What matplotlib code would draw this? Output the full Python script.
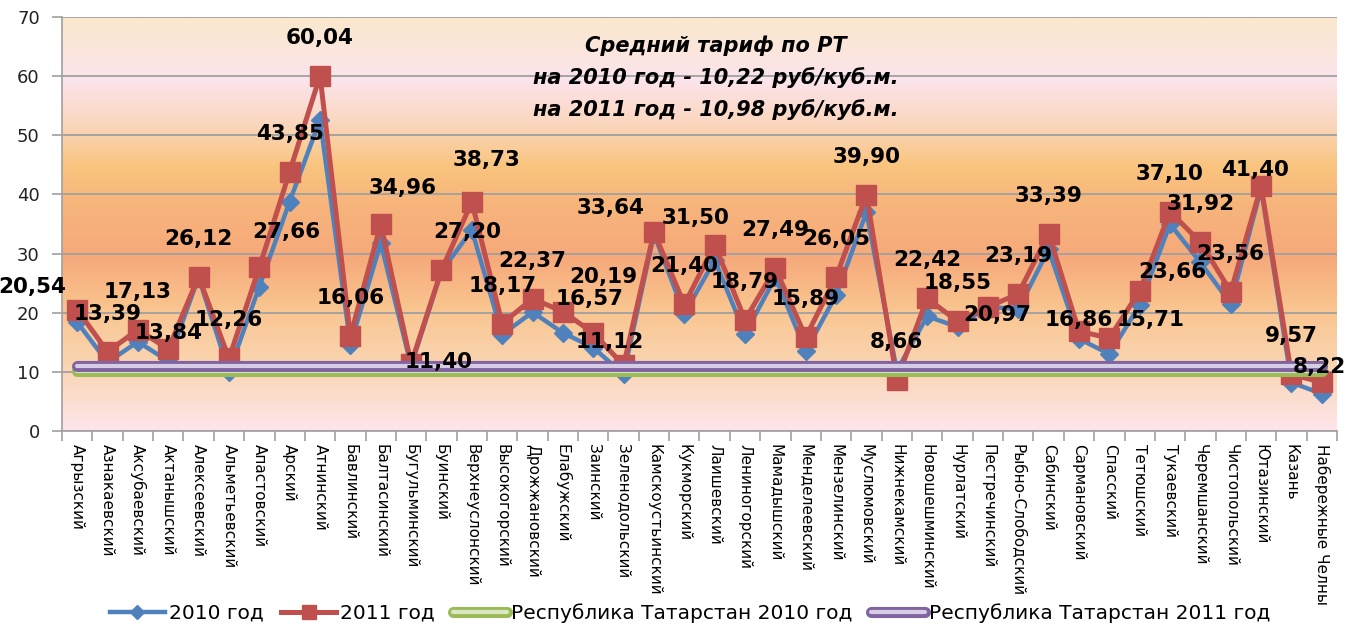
import matplotlib
matplotlib.use("Agg")
import matplotlib.pyplot as plt
import matplotlib.patheffects as pe
import numpy as np
from matplotlib.colors import LinearSegmentedColormap

districts = ["Агрызский", "Азнакаевский", "Аксубаевский", "Актанышский", "Алексеевский",
             "Альметьевский", "Апастовский", "Арский", "Атнинский", "Бавлинский",
             "Балтасинский", "Бугульминский", "Буинский", "Верхнеуслонский", "Высокогорский",
             "Дрожжановский", "Елабужский", "Заинский", "Зеленодольский", "Камскоустьинский",
             "Кукморский", "Лаишевский", "Лениногорский", "Мамадышский", "Менделеевский",
             "Мензелинский", "Муслюмовский", "Нижнекамский", "Новошешминский", "Нурлатский",
             "Пестречинский", "Рыбно-Слободский", "Сабинский", "Сармановский", "Спасский",
             "Тетюшский", "Тукаевский", "Черемшанский", "Чистопольский", "Ютазинский",
             "Казань", "Набережные Челны"]

tariff_2011 = [20.54, 13.39, 17.13, 13.84, 26.12, 12.26, 27.66, 43.85, 60.04, 16.06,
               34.96, 11.40, 27.20, 38.73, 18.17, 22.37, 20.19, 16.57, 11.12, 33.64,
               21.40, 31.50, 18.79, 27.49, 15.89, 26.05, 39.90, 8.66, 22.42, 18.55,
               20.97, 23.19, 33.39, 16.86, 15.71, 23.66, 37.10, 31.92, 23.56, 41.40,
               9.57, 8.22]

tariff_2010 = [18.4, 11.6, 15.1, 11.8, 26.0, 10.0, 24.4, 38.8, 52.6, 14.6,
               31.8, 11.0, 27.0, 34.0, 16.3, 20.1, 16.6, 14.1, 9.6, 33.3,
               19.8, 28.9, 16.4, 26.0, 13.5, 23.0, 37.0, 10.2, 19.4, 17.6,
               21.0, 20.6, 30.7, 15.6, 13.0, 21.3, 35.0, 28.5, 21.5, 41.0,
               8.2, 6.3]

avg_2010 = 10.22
avg_2011 = 10.98

# label offsets (pixels) where the labels were moved by hand
label_shift = {0: (-45, -23), 3: (0, -16), 6: (27, -35), 10: (22, -36), 11: (27, -2),
               12: (26, -38), 13: (15, -42), 16: (40, -35), 17: (-4, -34), 18: (-14, -23),
               19: (-43, -24), 21: (-19, -27), 30: (9, 8), 33: (0, -11), 34: (41, -18),
               35: (33, -19), 39: (-6, -16), 41: (-2, -15)}

x = np.arange(1, len(districts) + 1)

fig = plt.figure(figsize=(13.67, 6.3), dpi=100)
ax = fig.add_axes([62 / 1367, 1 - 431 / 630, 1275 / 1367, 414 / 630])

# gradient fill of plot area
bg = LinearSegmentedColormap.from_list("bg", [
    (0.0, "#FDE5EB"), (0.15, "#FAD6B4"), (0.3, "#F9C48E"), (0.42, "#F6A97A"),
    (0.55, "#F7B57C"), (0.64, "#F9C47E"), (0.74, "#FAD6BC"), (0.85, "#FCE4EC"),
    (1.0, "#FAE8CB")])
grad = np.linspace(0, 1, 256).reshape(-1, 1)
ax.imshow(grad, cmap=bg, origin="lower", aspect="auto",
          extent=[0.5, len(districts) + 0.5, 0, 70], zorder=0)

ax.plot(x, tariff_2010, color="#4F81BD", lw=3.2, marker="D", ms=9.5,
        label="2010 год", zorder=3)
ax.plot(x, tariff_2011, color="#C0504D", lw=3.6, marker="s", ms=14,
        label="2011 год", zorder=4)

ax.plot([x[0], x[-1]], [avg_2010] * 2, color="#DCE8C4", lw=3, solid_capstyle="round",
        path_effects=[pe.Stroke(linewidth=8, foreground="#9BBB59"), pe.Normal()],
        label="Республика Татарстан 2010 год", zorder=5)
ax.plot([x[0], x[-1]], [avg_2011] * 2, color="#D6CCE4", lw=3, solid_capstyle="round",
        path_effects=[pe.Stroke(linewidth=8, foreground="#8064A2"), pe.Normal()],
        label="Республика Татарстан 2011 год", zorder=6)

for i, v in enumerate(tariff_2011):
    dx, dy = label_shift.get(i, (0, -38))
    ax.annotate(f"{v:.2f}".replace(".", ","), (x[i], v), xytext=(dx, -dy),
                textcoords="offset pixels", ha="center", va="center",
                fontsize=15.5, fontweight="bold", zorder=10)

ax.text(0.513, 0.955, "Средний тариф по РТ\nна 2010 год - 10,22 руб/куб.м.\nна 2011 год - 10,98 руб/куб.м.",
        transform=ax.transAxes, ha="center", va="top", fontsize=15, fontweight="bold",
        fontstyle="italic", linespacing=1.65, zorder=11)

ax.set_xlim(0.5, len(districts) + 0.5)
ax.set_ylim(0, 70)
ax.set_yticks(range(0, 71, 10))
ax.yaxis.grid(True, color="#A0A0A0", lw=1.3)
ax.set_axisbelow(True)

ax.set_xticks(x)
ax.set_xticklabels(districts, rotation=-90, fontsize=11)
ax.set_xticks(np.arange(0.5, len(districts) + 1), minor=True)
ax.tick_params(axis="x", which="major", length=0, pad=9)
ax.tick_params(axis="x", which="minor", length=7, color="#A0A0A0", width=1.2)
ax.tick_params(axis="y", length=7, color="#A0A0A0", width=1.2, labelsize=13, pad=9,
               labelcolor="#222222")
for lab in ax.get_xticklabels():
    lab.set_va("top")
    lab.set_ha("center")

for s in ["top", "right"]:
    ax.spines[s].set_visible(False)
for s in ["left", "bottom"]:
    ax.spines[s].set_color("#A0A0A0")
    ax.spines[s].set_linewidth(1.2)

fig.legend(loc="center", bbox_to_anchor=(0.505, 0.027), ncol=4, frameon=False,
           fontsize=14.5, handlelength=2.7, handletextpad=0.2, columnspacing=0.9,
           markerscale=0.7)

fig.savefig("out.png", dpi=100)
